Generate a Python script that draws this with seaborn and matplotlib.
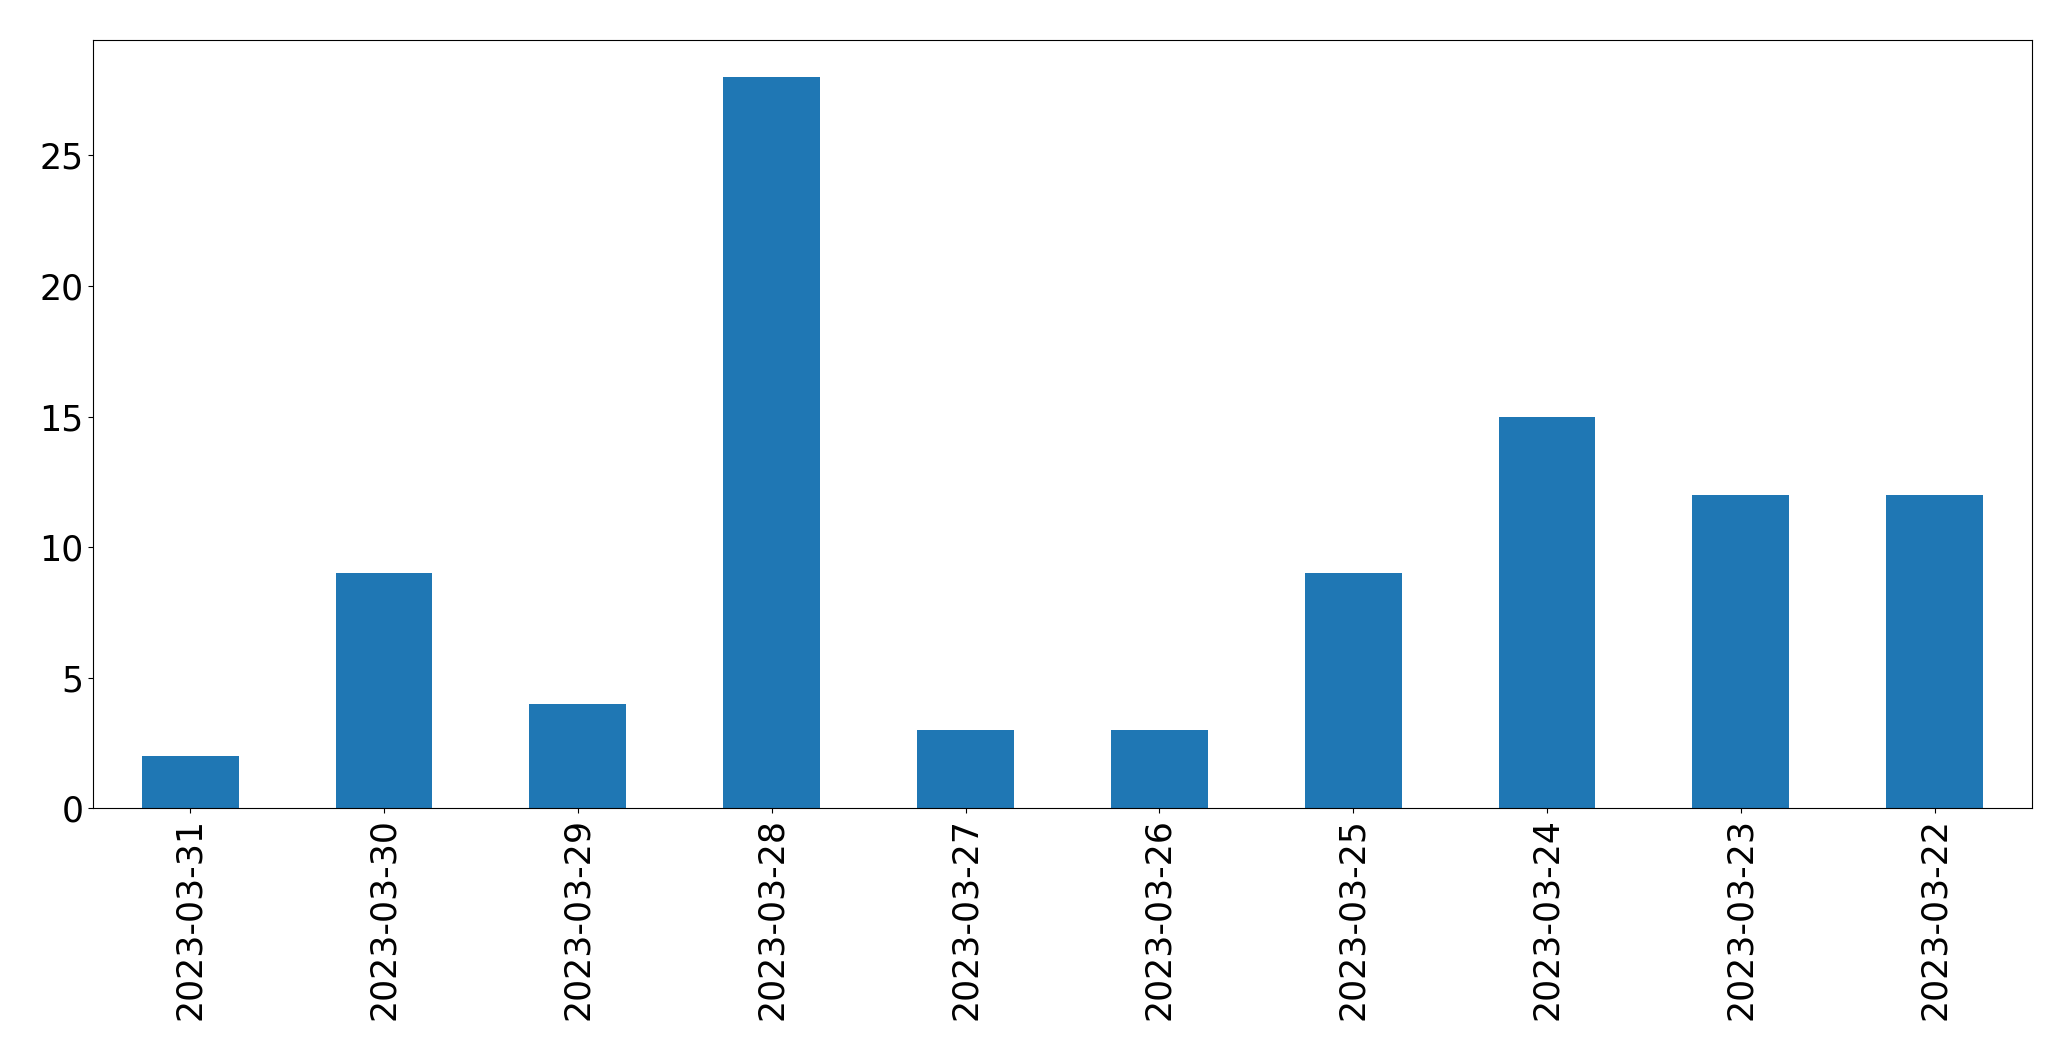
import matplotlib
matplotlib.use("Agg")
import matplotlib.pyplot as plt
import seaborn as sns
import pandas as pd

# --- data ---
dates = ["2023-03-31", "2023-03-30", "2023-03-29", "2023-03-28", "2023-03-27",
         "2023-03-26", "2023-03-25", "2023-03-24", "2023-03-23", "2023-03-22"]
counts = [2, 9, 4, 28, 3, 3, 9, 15, 12, 12]

df = pd.DataFrame({"date": dates, "count": counts})

fig = plt.figure(figsize=(20.71, 10.61), dpi=100)
ax = fig.add_axes([0.045, 0.238, 0.936, 0.724])

sns.barplot(data=df, x="date", y="count", order=dates, color="#1f77b4",
            saturation=1, width=0.5, linewidth=0, ax=ax)

ax.set_xlim(-0.5, len(dates) - 0.5)
ax.set_ylim(0, max(counts) * 1.05)
ax.set_xlabel("")
ax.set_ylabel("")
ax.tick_params(axis="both", labelsize=25)
ax.tick_params(axis="x", labelrotation=90)

fig.savefig("out.png", dpi=100)
